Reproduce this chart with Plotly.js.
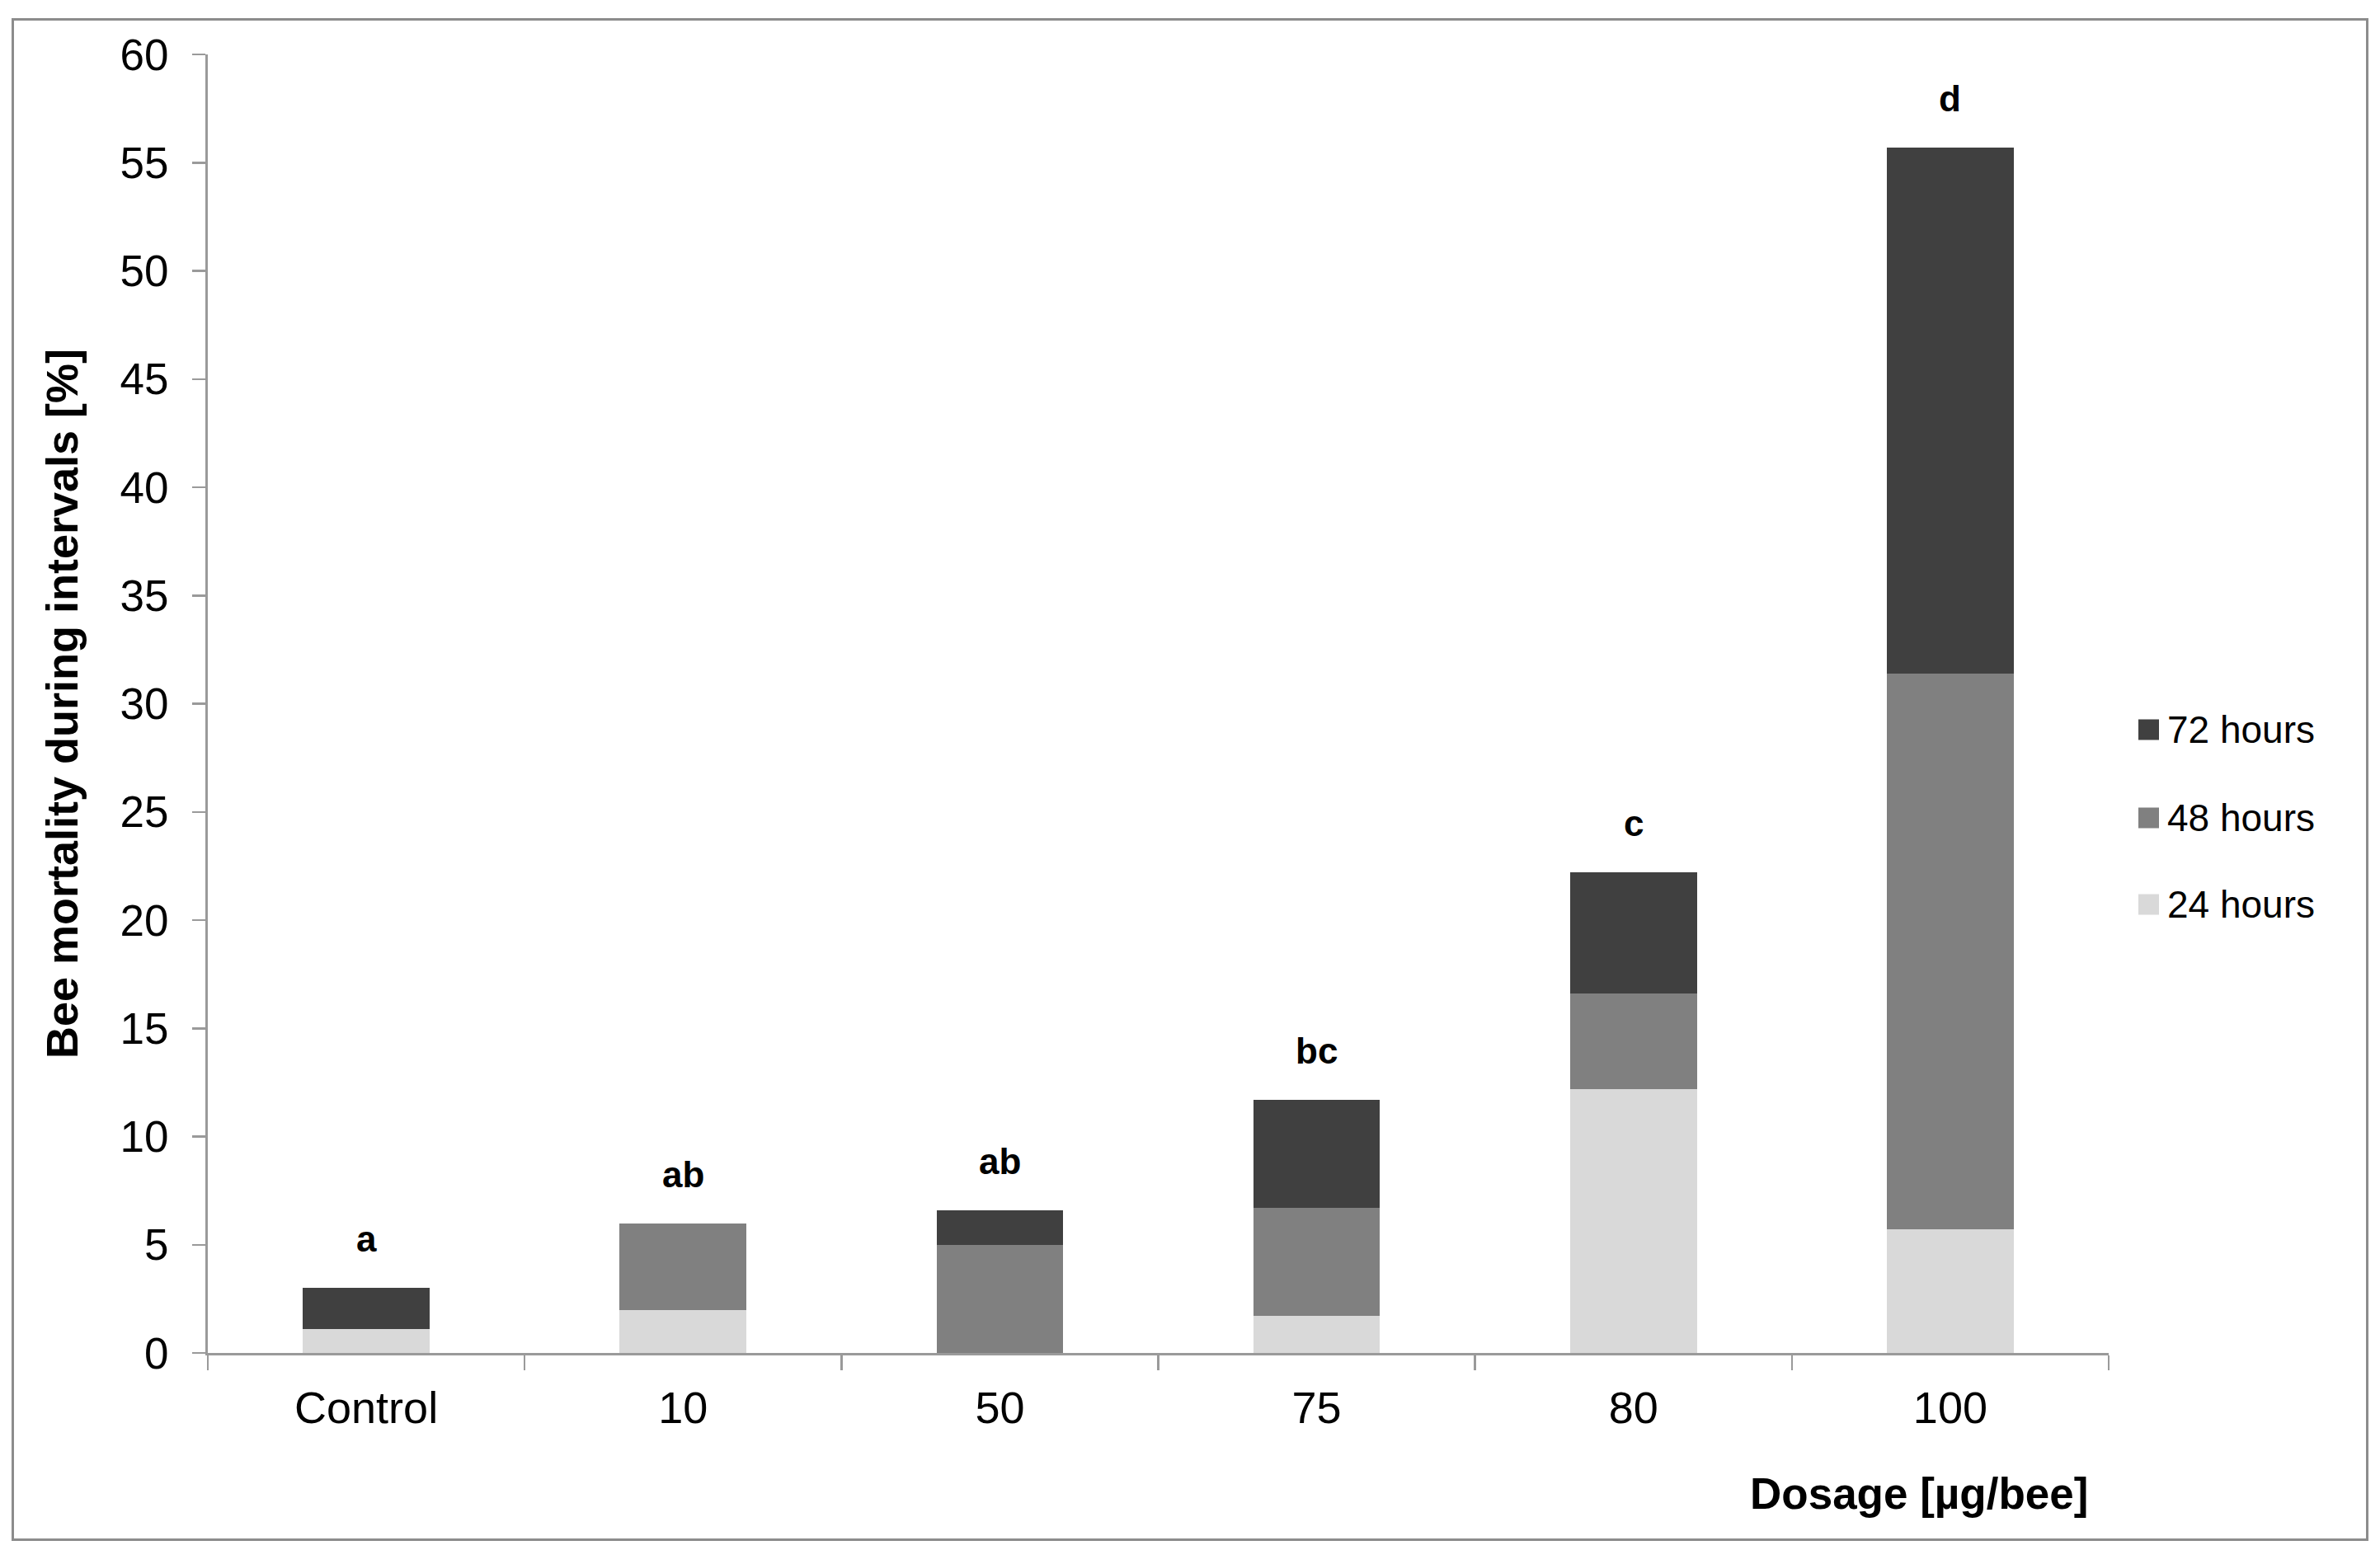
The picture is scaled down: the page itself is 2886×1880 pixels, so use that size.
<!DOCTYPE html>
<html>
<head>
<meta charset="utf-8">
<script src="https://cdn.plot.ly/plotly-3.0.1.min.js"></script>
<style>
  html, body { margin: 0; padding: 0; background: #ffffff; overflow: hidden; }
  #chart { position: absolute; left: 0; top: 0; width: 2886px; height: 1880px; }
  #frame { position: absolute; left: 14px; top: 22px; width: 2858px; height: 1847px;
           box-sizing: border-box; border: 3px solid #8c8c8c; pointer-events: none; }
</style>
</head>
<body>
<div id="chart"></div>
<div id="frame"></div>
<script>
// ---- data ----
const categories = ['Control', '10', '50', '75', '80', '100'];
const hours24 = [1.1, 2.0, 0.0, 1.7, 12.2, 5.7];
const hours48 = [0.0, 4.0, 5.0, 5.0, 4.4, 25.7];
const hours72 = [1.9, 0.0, 1.6, 5.0, 5.6, 24.3];
const groupLetters = ['a', 'ab', 'ab', 'bc', 'c', 'd'];
const seriesNames = ['24 hours', '48 hours', '72 hours'];

const colors = ['#d9d9d9', '#808080', '#404040'];
const FONT = 'Liberation Sans, Arial, Helvetica, sans-serif';
const axisColor = '#9a9a9a';

// plot-area geometry in pixels (used to convert to paper coords)
const PL = 252, PR = 2557, PT = 66, PB = 1641;
const px2x = px => (px - PL) / (PR - PL);
const px2y = py => (PB - py) / (PB - PT);

const seriesValues = [hours24, hours48, hours72];
const traces = seriesValues.map((vals, i) => ({
  type: 'bar',
  name: seriesNames[i],
  x: categories,
  y: vals,
  showlegend: false,
  marker: { color: colors[i], line: { width: 0 } },
  hoverinfo: 'skip'
}));

const totals = categories.map((c, i) => hours24[i] + hours48[i] + hours72[i]);

const letterAnnotations = categories.map((c, i) => ({
  x: i, y: totals[i], xref: 'x', yref: 'y',
  text: '<b>' + groupLetters[i] + '</b>',
  showarrow: false, yanchor: 'bottom', xanchor: 'center', yshift: 33,
  font: { family: FONT, size: 44, color: '#000000' }
}));

// legend (top: 72 hours, bottom: 24 hours)
const legendRowsY = [1097, 992, 885]; // pixel centers for 24h, 48h, 72h rows
const legendShapes = seriesNames.map((n, i) => ({
  type: 'rect', xref: 'paper', yref: 'paper',
  x0: px2x(2593), x1: px2x(2618),
  y0: px2y(legendRowsY[i] + 12.5), y1: px2y(legendRowsY[i] - 12.5),
  fillcolor: colors[i], line: { width: 0 }
}));
const legendTexts = seriesNames.map((n, i) => ({
  xref: 'paper', yref: 'paper',
  x: px2x(2626), xanchor: 'left',
  y: px2y(legendRowsY[i]), yanchor: 'middle',
  text: n, showarrow: false,
  font: { family: FONT, size: 46, color: '#000000' }
}));

const layout = {
  width: 2886, height: 1880,
  margin: { l: PL, r: 2886 - PR, t: PT, b: 1880 - PB, pad: 0 },
  paper_bgcolor: '#ffffff', plot_bgcolor: '#ffffff',
  barmode: 'stack', bargap: 0.6,
  showlegend: false,
  xaxis: {
    type: 'category',
    showline: true, linecolor: axisColor, linewidth: 3,
    ticks: 'outside', tickson: 'boundaries', ticklen: 18, tickwidth: 2.5, tickcolor: axisColor,
    ticklabelstandoff: 17,
    tickfont: { family: FONT, size: 54, color: '#000000' },
    tickangle: 0,
    showgrid: false, zeroline: false, fixedrange: true
  },
  yaxis: {
    range: [0, 60], tick0: 0, dtick: 5,
    showline: true, linecolor: axisColor, linewidth: 3,
    ticks: 'outside', ticklen: 16, tickwidth: 2.5, tickcolor: axisColor,
    ticklabelstandoff: 18,
    tickfont: { family: FONT, size: 53, color: '#000000' },
    showgrid: false, zeroline: false, fixedrange: true,
    title: { text: '<b>Bee mortality during intervals [%]</b>', standoff: 34,
             font: { family: FONT, size: 54, color: '#000000' } }
  },
  shapes: legendShapes,
  annotations: letterAnnotations.concat(legendTexts, [{
    xref: 'paper', yref: 'paper',
    x: px2x(2534), xanchor: 'right',
    y: px2y(1811), yanchor: 'middle',
    text: '<b>Dosage [µg/bee]</b>', showarrow: false,
    font: { family: FONT, size: 53, color: '#000000' }
  }])
};

Plotly.newPlot('chart', traces, layout, { staticPlot: true, displayModeBar: false });
</script>
</body>
</html>
